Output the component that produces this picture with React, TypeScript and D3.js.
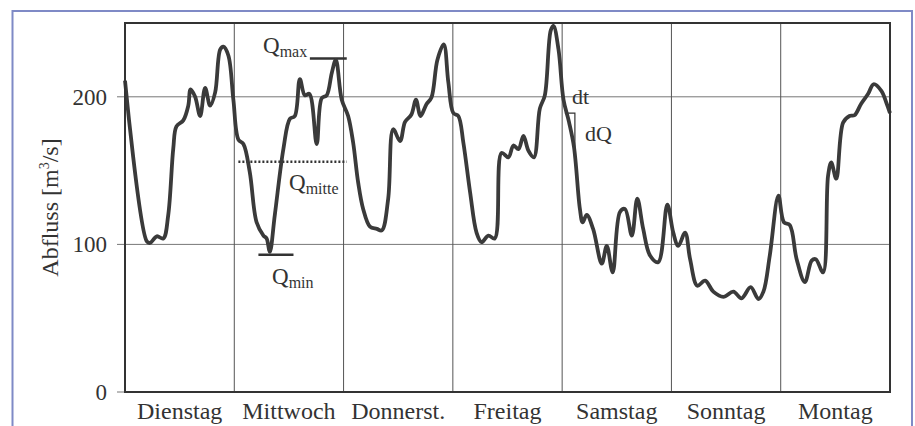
import * as d3 from "d3";

const days = ["Dienstag", "Mittwoch", "Donnerst.", "Freitag", "Samstag", "Sonntag", "Montag"];
const yTicks = [0, 100, 200];

// Stunden ab Dienstag 0 Uhr
const hours = [
  0, 4.8, 5.5, 7.0, 8.4, 9.5, 10.6, 11.3, 12.8, 13.9, 14.4, 15.4, 16.5, 17.6, 18.7, 19.8, 20.9, 21.6, 22.7, 23.8,
  24.9, 26, 27.4, 28.9, 30.4, 31.1, 31.8, 32.9, 34.8, 36.2, 37.3, 38.4, 39.5, 40.5, 42.1, 43.2, 44.3, 45.4, 46.3, 47.6,
  49.0, 50.1, 51.2, 52.3, 53.8, 55.3, 56.4, 57.8, 58.9, 60.4, 61.5, 62.9, 63.9, 64.9, 66.2, 67.3, 68.6, 70, 71, 72.1,
  73.2, 74.3, 75.8, 77.2, 78.3, 79.8, 81.2, 82.7, 84.2, 85.3, 86.4, 87.5, 88.6, 89.8, 91.1, 92.2, 93.5, 94.1, 95.2, 96.3,
  97.5, 98.6, 99.9, 100.5, 101.4, 102.8, 104.7, 105.8, 107.1, 108.7, 109.8, 111.3, 112.5, 113.8, 115.3, 117.1, 119.1,
  120.4, 121.5, 123.0, 124.1, 125.7, 127.4, 129.2, 131.4, 133.6, 135.4, 137.4, 139.1, 140.2, 141.6, 143.5, 144.7, 146.0,
  147.5, 149.3, 150.8, 151.7, 153.3, 154.4, 155.1, 156.2, 157.7, 159.1, 160.2, 161.7, 163.2, 164.4, 166.1, 167.2, 168,
];
const flow = [
  211, 102, 101, 105.5, 104, 120, 165, 180, 184, 194, 205, 200, 187, 206, 194, 203, 232, 234, 228, 198,
  171, 168, 149, 115, 106, 104, 95, 120, 165, 185, 187, 212, 201, 202, 168, 199, 201, 216, 225, 198,
  187, 169, 142, 124, 112, 110.5, 109.5, 131, 178, 170, 183, 188, 198, 187, 195, 199.5, 225, 235.5, 210, 189,
  187, 169, 135, 108, 101.5, 106, 104, 162, 159, 167, 164.5, 173.5, 163.5, 159, 192, 201, 245, 248, 232, 198,
  183, 166, 124, 115, 120, 110.5, 87, 99, 81, 122, 124, 106, 131, 110.5, 92.5, 88, 127,
  108, 99, 108, 90, 72, 75.5, 68, 64.5, 68, 63.5, 71, 63, 68, 92.5, 133, 115, 113,
  90, 74.5, 89, 90, 81, 146.5, 155.5, 144.5, 182.5, 187, 187.5, 195.5, 202, 208.5, 204, 196, 189,
];

const qMax = 226;
const qMin = 93;
const qMitte = 156;

const W = 915;
const H = 426;
const left = 125;
const right = 890;
const top = 23;
const bottom = 392;

export default function App() {
  const x = d3.scaleLinear([0, 168], [left, right]);
  const y = d3.scaleLinear([0, 250], [bottom, top]);
  const line = d3
    .line<number>()
    .x((_, i) => x(hours[i]))
    .y((d) => y(d))
    .curve(d3.curveCatmullRom.alpha(0.5));

  const font = "Liberation Serif, serif";
  const ink = "#333";

  return (
    <svg width={W} height={H} style={{ position: "absolute", left: 0, top: 0, background: "#fff" }} fontFamily={font}>
      <rect x={12.5} y={11} width={899.5} height={440} fill="none" stroke="#7f8ac6" strokeWidth={2} />

      {/* Gitter */}
      {yTicks.map((t) => (
        <g key={t}>
          <line x1={left - 8} x2={right} y1={y(t)} y2={y(t)} stroke="#777" strokeWidth={1} />
          <text x={107} y={y(t) + 8} textAnchor="end" fontSize={23} fill={ink}>
            {t}
          </text>
        </g>
      ))}
      {d3.range(1, 7).map((d) => (
        <line key={d} x1={x(d * 24)} x2={x(d * 24)} y1={top} y2={bottom} stroke="#555" strokeWidth={1} />
      ))}
      {days.map((d, i) => (
        <text key={d} x={x(i * 24 + 12)} y={419} textAnchor="middle" fontSize={24} fill={ink}>
          {d}
        </text>
      ))}

      <text transform={`translate(58,${(top + bottom) / 2}) rotate(-90)`} textAnchor="middle" fontSize={24} fill={ink}>
        Abfluss [m<tspan dy={-9} fontSize={14}>3</tspan>
        <tspan dy={9}>/s]</tspan>
      </text>

      {/* Kennwerte */}
      <line x1={x(40.6)} x2={x(48.7)} y1={y(qMax)} y2={y(qMax)} stroke={ink} strokeWidth={2.5} />
      <line x1={x(29.3)} x2={x(37)} y1={y(qMin)} y2={y(qMin)} stroke={ink} strokeWidth={2.5} />
      <line x1={x(24.9)} x2={x(48.7)} y1={y(qMitte)} y2={y(qMitte)} stroke={ink} strokeWidth={2.5} strokeDasharray="2 2" />
      <polyline
        points={`${x(96.6)},${y(189)} ${x(98.8)},${y(189)} ${x(98.8)},${y(165)}`}
        fill="none"
        stroke={ink}
        strokeWidth={1.2}
      />

      <path d={line(flow) ?? ""} fill="none" stroke="#3a3a3a" strokeWidth={3.8} strokeLinejoin="round" />

      <rect x={left} y={top} width={right - left} height={bottom - top} fill="none" stroke={ink} strokeWidth={2} />

      <text x={263} y={y(229.5)} fontSize={23} fill={ink}>
        Q<tspan dy={4} fontSize={16}>max</tspan>
      </text>
      <text x={272} y={y(73)} fontSize={23} fill={ink}>
        Q<tspan dy={4} fontSize={16}>min</tspan>
      </text>
      <text x={289} y={y(137)} fontSize={23} fill={ink}>
        Q<tspan dy={4} fontSize={16}>mitte</tspan>
      </text>
      <text x={572} y={y(195)} fontSize={22} fill={ink}>
        dt
      </text>
      <text x={585} y={y(170)} fontSize={22} fill={ink}>
        dQ
      </text>
    </svg>
  );
}
